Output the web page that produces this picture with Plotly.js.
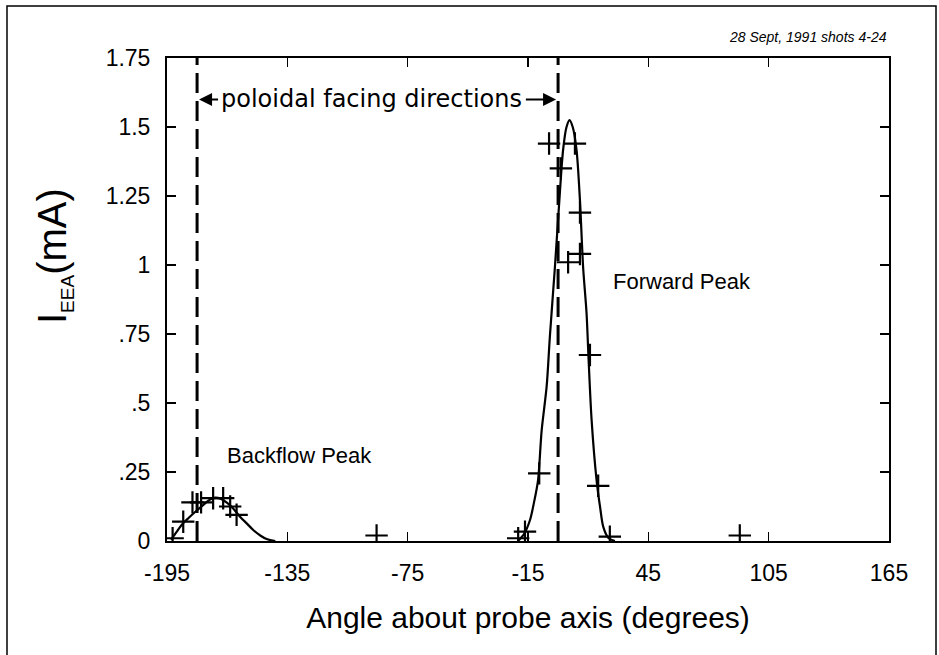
<!DOCTYPE html>
<html>
<head>
<meta charset="utf-8">
<script src="https://cdn.plot.ly/plotly-3.0.1.min.js"></script>
<style>
html,body{margin:0;padding:0;background:#fff;}
#chart{width:939px;height:655px;}
</style>
</head>
<body>
<div id="chart"></div>
<script>
// ---- data ----
const backPointsX = [-192.2, -186.9, -182.3, -178, -172, -167, -163.5, -160.3];
const backPointsY = [0.01, 0.07, 0.14, 0.14, 0.155, 0.155, 0.125, 0.095];

const fwdPointsX = [-90.5, -19.9, -16.5, -9.4, -4.5, 1.4, 8.4, 5.0, 10.9, 10.9, 15.9, 20.0, 25.8, 90.6];
const fwdPointsY = [0.02, 0.01, 0.034, 0.245, 1.44, 1.35, 1.44, 1.01, 1.19, 1.04, 0.674, 0.20, 0.016, 0.02];

const backCurveX = [-193, -190, -187, -184, -181, -177, -174, -171, -168, -165, -162, -158.6, -155, -152, -148.5, -145.3, -141];
const backCurveY = [0.005, 0.035, 0.064, 0.085, 0.105, 0.13, 0.148, 0.157, 0.152, 0.138, 0.118, 0.088, 0.062, 0.04, 0.02, 0.007, 0];

const fwdCurveX = [-20, -17, -14, -12, -10, -8.2, -5.7, -4.1, -1.6, 0.1, 2.5, 4.2, 5.7, 7.3, 9.2, 10.9, 12.5, 14.2, 15.2, 16.7, 19.2, 21, 22.5, 25, 28.3];
const fwdCurveY = [0, 0.025, 0.076, 0.14, 0.22, 0.40, 0.56, 0.74, 0.99, 1.175, 1.417, 1.50, 1.525, 1.50, 1.417, 1.235, 0.99, 0.825, 0.66, 0.44, 0.22, 0.12, 0.052, 0.012, 0];

const facingAngles = [-180, 0];
const facingRange = [0, 1.75];

const xTicks = [-195, -135, -75, -15, 45, 105, 165];
const yTicks = [0, 0.25, 0.5, 0.75, 1, 1.25, 1.5, 1.75];
const yTickText = ['0', '.25', '.5', '.75', '1', '1.25', '1.5', '1.75'];

// ---- traces ----
const FONT = 'Liberation Sans, Arial, Helvetica, sans-serif';
const traces = [];
facingAngles.forEach(a => {
  traces.push({
    x: [a, a], y: facingRange, mode: 'lines', type: 'scatter', hoverinfo: 'skip',
    line: {color: '#000', width: 3, dash: '20px,8px'}, showlegend: false
  });
});
traces.push({x: backCurveX, y: backCurveY, mode: 'lines', type: 'scatter',
  line: {color: '#000', width: 2.2, shape: 'spline', smoothing: 1}, showlegend: false});
traces.push({x: fwdCurveX, y: fwdCurveY, mode: 'lines', type: 'scatter',
  line: {color: '#000', width: 2.2, shape: 'spline', smoothing: 0.8}, showlegend: false});
traces.push({x: backPointsX.concat(fwdPointsX), y: backPointsY.concat(fwdPointsY), mode: 'markers', type: 'scatter',
  marker: {symbol: 'cross-thin-open', size: 16, color: '#000', line: {color: '#000', width: 2.2}}, showlegend: false});

// ---- layout ----
const L = 167, R = 889, T = 58, B = 541, W = 939, H = 655;
const px2paperX = p => (p - L) / (R - L);
const px2paperY = p => (B - p) / (B - T);

const layout = {
  width: W, height: H,
  margin: {l: L, r: W - R, t: T, b: H - B, pad: 0},
  paper_bgcolor: '#fff', plot_bgcolor: '#fff',
  font: {family: FONT, color: '#000'},
  showlegend: false,
  xaxis: {
    range: [-195, 165], tickmode: 'array', tickvals: xTicks, ticktext: xTicks.map(String),
    ticks: 'inside', ticklen: 9, tickwidth: 1.3, tickcolor: '#000',
    showline: true, linecolor: '#000', linewidth: 2, mirror: 'ticks',
    showgrid: false, zeroline: false,
    tickfont: {size: 23, family: FONT}, ticklabelstandoff: 10,
    title: {text: 'Angle about probe axis (degrees)', font: {size: 30, family: FONT}, standoff: 22}
  },
  yaxis: {
    range: [0, 1.75], tickmode: 'array', tickvals: yTicks, ticktext: yTickText,
    ticks: 'inside', ticklen: 9, tickwidth: 1.3, tickcolor: '#000',
    showline: true, linecolor: '#000', linewidth: 2, mirror: 'ticks',
    showgrid: false, zeroline: false,
    tickfont: {size: 23, family: FONT}, ticklabelstandoff: 10
  },
  annotations: [
    {xref: 'paper', yref: 'paper', x: px2paperX(889), y: px2paperY(37), xanchor: 'right', yanchor: 'middle',
      text: '<i>28 Sept, 1991 shots 4-24</i>', showarrow: false, font: {size: 14, family: FONT}},
    {xref: 'paper', yref: 'paper', x: px2paperX(54), y: px2paperY(256), xanchor: 'center', yanchor: 'middle',
      textangle: -90, text: 'I<sub><span style="font-size:19px">EEA</span></sub>(mA)', showarrow: false,
      font: {size: 40, family: FONT}},
    {xref: 'x', yref: 'y', x: -92.8, y: 1.6, text: 'poloidal facing directions', showarrow: false,
      font: {size: 24, family: 'DejaVu Sans, Liberation Sans, sans-serif'}, xanchor: 'center', yanchor: 'middle'},
    {xref: 'x', yref: 'y', x: -180, y: 1.6, ax: -168.8, ay: 1.6, axref: 'x', ayref: 'y', text: '',
      showarrow: true, arrowhead: 2, arrowsize: 1.3, arrowwidth: 2, arrowcolor: '#000', standoff: 2},
    {xref: 'x', yref: 'y', x: 0, y: 1.6, ax: -16.8, ay: 1.6, axref: 'x', ayref: 'y', text: '',
      showarrow: true, arrowhead: 2, arrowsize: 1.3, arrowwidth: 2, arrowcolor: '#000', standoff: 2},
    {xref: 'x', yref: 'y', x: -129, y: 0.31, text: 'Backflow Peak', showarrow: false,
      font: {size: 22, family: FONT}, xanchor: 'center', yanchor: 'middle'},
    {xref: 'x', yref: 'y', x: 62, y: 0.94, text: 'Forward Peak', showarrow: false,
      font: {size: 22, family: FONT}, xanchor: 'center', yanchor: 'middle'}
  ],
  shapes: [
    {type: 'rect', xref: 'paper', yref: 'paper', x0: px2paperX(7), x1: px2paperX(936), y0: px2paperY(662), y1: px2paperY(6),
      line: {color: '#000', width: 1.5}, fillcolor: 'rgba(0,0,0,0)', layer: 'below'}
  ]
};

Plotly.newPlot('chart', traces, layout, {staticPlot: true, displayModeBar: false});
</script>
</body>
</html>
